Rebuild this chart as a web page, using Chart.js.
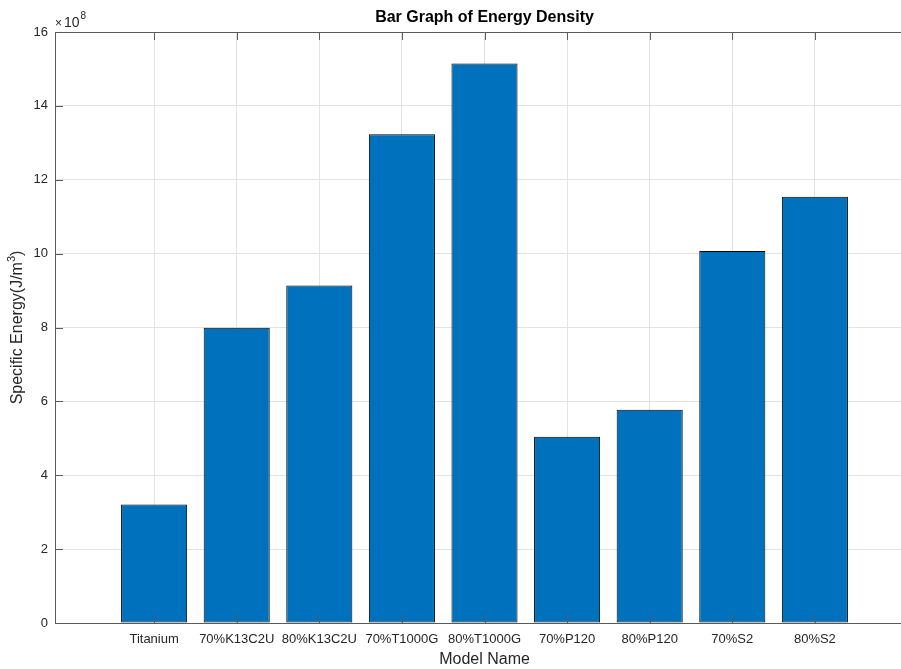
<!DOCTYPE html>
<html>
<head>
<meta charset="utf-8">
<script src="https://cdn.jsdelivr.net/npm/chart.js@4/dist/chart.umd.min.js"></script>
<style>
  html, body { margin: 0; padding: 0; background: #ffffff; overflow: hidden; }
  #clip { width: 901px; height: 669px; overflow: hidden; position: relative; }
  #wrap { width: 969px; height: 669px; position: relative; }
</style>
</head>
<body>
<div id="clip"><div id="wrap"><canvas id="c" width="969" height="669"></canvas></div></div>
<script>
// Model names along the x axis
const models = ['Titanium', '70%K13C2U', '80%K13C2U', '70%T1000G', '80%T1000G', '70%P120', '80%P120', '70%S2', '80%S2'];
// Specific energy of each model, J/m^3
const specificEnergy = [3.21e8, 7.99e8, 9.14e8, 13.23e8, 15.15e8, 5.04e8, 5.77e8, 10.07e8, 11.54e8];
// Y axis tick values, J/m^3
const yTicks = [0, 2e8, 4e8, 6e8, 8e8, 10e8, 12e8, 14e8, 16e8];
const yExponent = 8;

const FONT = '"Liberation Sans", Arial, Helvetica, sans-serif';
const AXIS = '#5a5a5a';
const TEXT = '#262626';

// Draws the axes lines, inward tick marks, the exponent and the y-axis label
const matlabAxes = {
  id: 'matlabAxes',
  afterDatasetsDraw(chart) {
    const { ctx, chartArea: a, scales: { x, y } } = chart;
    const tl = 8;
    ctx.save();
    ctx.strokeStyle = AXIS;
    ctx.lineWidth = 1;
    ctx.beginPath();
    // left, top and bottom axis lines
    ctx.moveTo(a.right, a.bottom + 0.5);
    ctx.lineTo(a.left + 0.5, a.bottom + 0.5);
    ctx.lineTo(a.left + 0.5, a.top + 0.5);
    ctx.lineTo(a.right, a.top + 0.5);
    // x ticks (bottom and top, pointing inward)
    x.ticks.forEach(t => {
      const px = Math.round(x.getPixelForValue(t.value)) + 0.5;
      ctx.moveTo(px, a.bottom); ctx.lineTo(px, a.bottom - tl);
      ctx.moveTo(px, a.top); ctx.lineTo(px, a.top + tl);
    });
    // y ticks (pointing inward from the left axis)
    y.ticks.forEach(t => {
      const py = Math.round(y.getPixelForValue(t.value)) + 0.5;
      ctx.moveTo(a.left, py); ctx.lineTo(a.left + tl, py);
    });
    ctx.stroke();

    // exponent above the y axis
    ctx.fillStyle = TEXT;
    ctx.textBaseline = 'alphabetic';
    ctx.textAlign = 'left';
    const ex = a.left, ey = a.top - 5;
    ctx.font = '12px ' + FONT;
    ctx.fillText('\u00d7', ex, ey);
    const wx = ctx.measureText('\u00d7').width;
    ctx.font = '14px ' + FONT;
    ctx.fillText('10', ex + wx + 2, ey);
    const w10 = ctx.measureText('10').width;
    ctx.font = '10px ' + FONT;
    ctx.fillText(String(yExponent), ex + wx + 2 + w10 + 1, ey - 8);

    // y axis label with superscript
    ctx.translate(18, (a.top + a.bottom) / 2);
    ctx.rotate(-Math.PI / 2);
    const main = 'Specific Energy(J/m';
    const tail = ')';
    ctx.font = '16px ' + FONT;
    const wMain = ctx.measureText(main).width;
    const wTail = ctx.measureText(tail).width;
    ctx.font = '11px ' + FONT;
    const wSup = ctx.measureText('3').width;
    const total = wMain + wSup + wTail;
    let cx = -total / 2;
    ctx.textBaseline = 'middle';
    ctx.font = '16px ' + FONT;
    ctx.fillText(main, cx, 0);
    cx += wMain;
    ctx.font = '11px ' + FONT;
    ctx.fillText('3', cx, -6);
    cx += wSup;
    ctx.font = '16px ' + FONT;
    ctx.fillText(tail, cx, 0);
    ctx.restore();
  }
};

new Chart(document.getElementById('c'), {
  type: 'bar',
  data: {
    datasets: [{
      data: models.map((m, i) => ({ x: i + 1, y: specificEnergy[i] })),
      backgroundColor: '#0072BD',
      borderColor: '#000000',
      borderWidth: 1,
      borderSkipped: false,
      barPercentage: 0.8,
      categoryPercentage: 1.0
    }]
  },
  options: {
    responsive: false,
    animation: false,
    layout: { padding: { top: 32, right: 55, left: 0, bottom: 0 } },
    plugins: {
      legend: { display: false },
      tooltip: { enabled: false },
      title: { display: false }
    },
    scales: {
      x: {
        type: 'linear',
        offset: false,
        min: -0.2,
        max: 10.2,
        afterBuildTicks: s => { s.ticks = models.map((m, i) => ({ value: i + 1 })); },
        afterFit: s => { s.height = 46; },
        ticks: {
          autoSkip: false,
          maxRotation: 0,
          padding: 9,
          color: TEXT,
          font: { family: FONT, size: 13 },
          callback: v => models[v - 1]
        },
        grid: { color: '#e3e3e3', drawTicks: false, offset: false },
        border: { display: false },
        title: {
          display: true,
          text: 'Model Name',
          color: TEXT,
          font: { family: FONT, size: 16 },
          padding: { top: 0, bottom: 0 }
        }
      },
      y: {
        min: 0,
        max: 16e8,
        afterBuildTicks: s => { s.ticks = yTicks.map(v => ({ value: v })); },
        afterFit: s => { s.width = 55; },
        ticks: {
          padding: 7,
          color: TEXT,
          font: { family: FONT, size: 13 },
          callback: v => String(Math.round(v / Math.pow(10, yExponent)))
        },
        grid: { color: '#e3e3e3', drawTicks: false },
        border: { display: false }
      }
    }
  },
  plugins: [matlabAxes, {
    id: 'chartTitle',
    afterDraw(chart) {
      const { ctx, chartArea: a } = chart;
      ctx.save();
      ctx.fillStyle = '#000000';
      ctx.font = 'bold 16px ' + FONT;
      ctx.textAlign = 'center';
      ctx.textBaseline = 'middle';
      ctx.fillText('Bar Graph of Energy Density', (a.left + a.right) / 2, 18);
      ctx.restore();
    }
  }]
});
</script>
</body>
</html>
